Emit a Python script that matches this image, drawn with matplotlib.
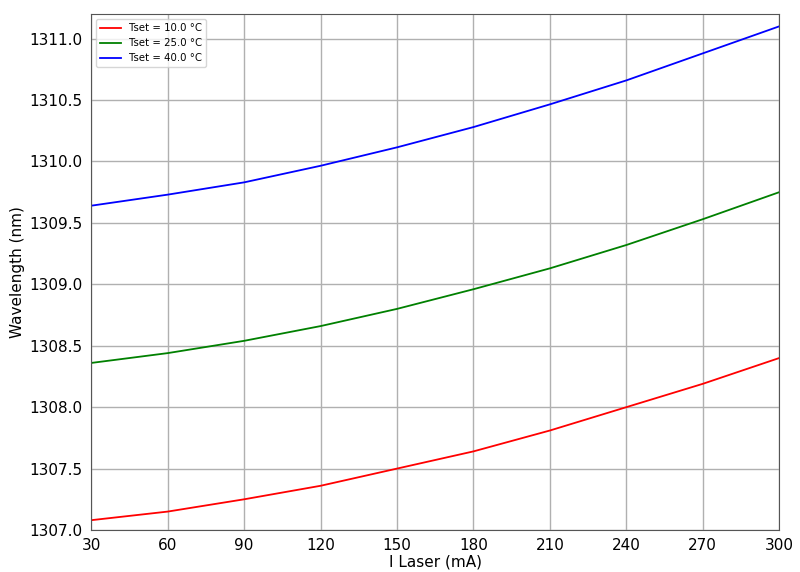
import matplotlib
matplotlib.use("Agg")
import matplotlib.pyplot as plt

current_ma = [30, 60, 90, 120, 150, 180, 210, 240, 270, 300]
wl_10 = [1307.08, 1307.15, 1307.25, 1307.36, 1307.50, 1307.64, 1307.81, 1308.00, 1308.19, 1308.40]
wl_25 = [1308.36, 1308.44, 1308.54, 1308.66, 1308.80, 1308.96, 1309.13, 1309.32, 1309.53, 1309.75]
wl_40 = [1309.64, 1309.73, 1309.83, 1309.965, 1310.115, 1310.28, 1310.465, 1310.66, 1310.88, 1311.10]
labels = ["Tset = 10.0 °C", "Tset = 25.0 °C", "Tset = 40.0 °C"]
colors = ["red", "green", "blue"]

fig = plt.figure(figsize=(8, 5.72), dpi=100)
ax = fig.add_axes([0.114, 0.0734, 0.86, 0.902])
for ys, lab, c in zip([wl_10, wl_25, wl_40], labels, colors):
    ax.plot(current_ma, ys, color=c, lw=1.3, label=lab)

ax.set_xlim(30, 300)
ax.set_ylim(1307.0, 1311.2)
ax.set_xticks(current_ma)
ax.set_yticks([1307.0, 1307.5, 1308.0, 1308.5, 1309.0, 1309.5, 1310.0, 1310.5, 1311.0])
ax.yaxis.set_major_formatter(matplotlib.ticker.FormatStrFormatter('%.1f'))
ax.grid(True, color='#b0b0b0', lw=1.0)
ax.tick_params(axis='both', labelsize=11, length=0)
ax.tick_params(axis='x', pad=6)
ax.tick_params(axis='y', pad=6.5)
ax.set_xlabel("I Laser (mA)", fontsize=11, labelpad=1)
ax.set_ylabel("Wavelength (nm)", fontsize=11, labelpad=3)
for s in ax.spines.values():
    s.set_color('#555555')
ax.legend(loc='upper left', fontsize=7.3)
fig.savefig("out.png", dpi=100)
